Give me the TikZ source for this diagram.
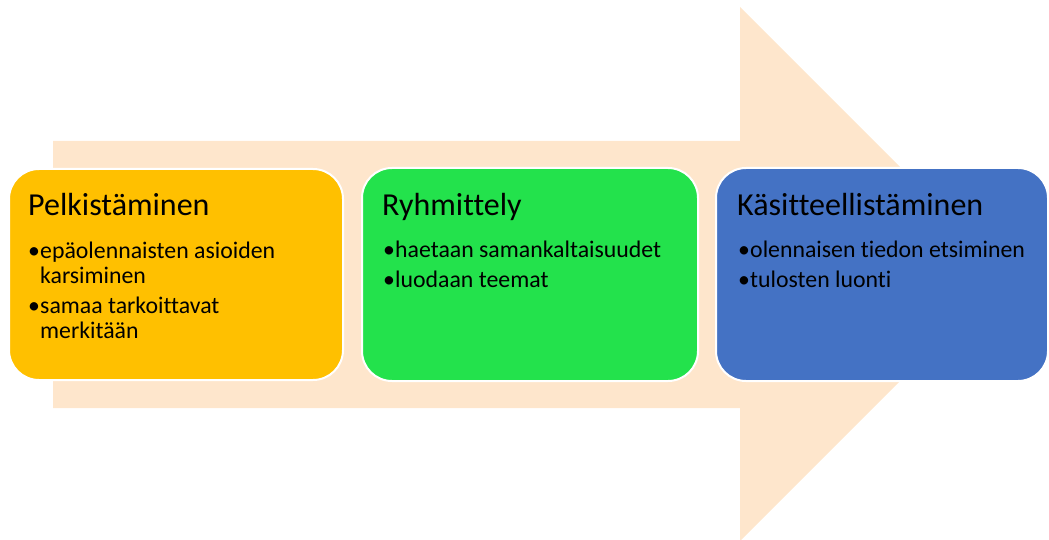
\documentclass[tikz,border=0pt]{standalone}
\usepackage{fontspec}
\setmainfont{Carlito}[Ligatures=NoCommon]
\definecolor{peach}{HTML}{FEE6CC}
\definecolor{boxyellow}{HTML}{FFC000}
\definecolor{boxgreen}{HTML}{23E24C}
\definecolor{boxblue}{HTML}{4472C4}
\tikzset{
  stage/.style={draw=white, line width=2pt, rounded corners=30pt},
  ttl/.style={anchor=base west, inner sep=0pt, font=\fontsize{32}{38}\selectfont},
  itm/.style={anchor=base west, inner sep=0pt, font=\fontsize{23.8}{28}\selectfont},
  bul/.style={anchor=base west, inner sep=0pt, font=\fontsize{23.8}{28}\selectfont}
}
\begin{document}
\begin{tikzpicture}[x=1pt,y=-1pt]
\useasboundingbox (0,0) rectangle (1049,540);
% big arrow
\fill[peach] (53,141) -- (740,141) -- (740,7) -- (1007,274) -- (740,541) -- (740,408) -- (53,408) -- cycle;
% boxes
\path[stage, fill=boxyellow] (9,169) rectangle (343,380);
\path[stage, fill=boxgreen] (362,168) rectangle (698,381);
\path[stage, fill=boxblue] (716,168) rectangle (1048,381);
% box 1
\node[ttl] (t1) at (28,215) {Pelkistäminen};
\node[bul] (b11) at (28,258) {•};
\node[itm] (i11) at (40,258) {epäolennaisten asioiden};
\node[itm] (i12) at (40,283) {karsiminen};
\node[bul] (b12) at (28,313) {•};
\node[itm] (i13) at (40,313) {samaa tarkoittavat};
\node[itm] (i14) at (40,338) {merkitään};
% box 2
\node[ttl] (t2) at (382,215) {Ryhmittely};
\node[bul] (b21) at (383,257) {•};
\node[itm] (i21) at (395,257) {haetaan samankaltaisuudet};
\node[bul] (b22) at (383,287) {•};
\node[itm] (i22) at (395,287) {luodaan teemat};
% box 3
\node[ttl] (t3) at (737,215) {Käsitteellistäminen};
\node[bul] (b31) at (738,257) {•};
\node[itm] (i31) at (750,257) {olennaisen tiedon etsiminen};
\node[bul] (b32) at (738,287) {•};
\node[itm] (i32) at (750,287) {tulosten luonti};
\end{tikzpicture}
\end{document}
